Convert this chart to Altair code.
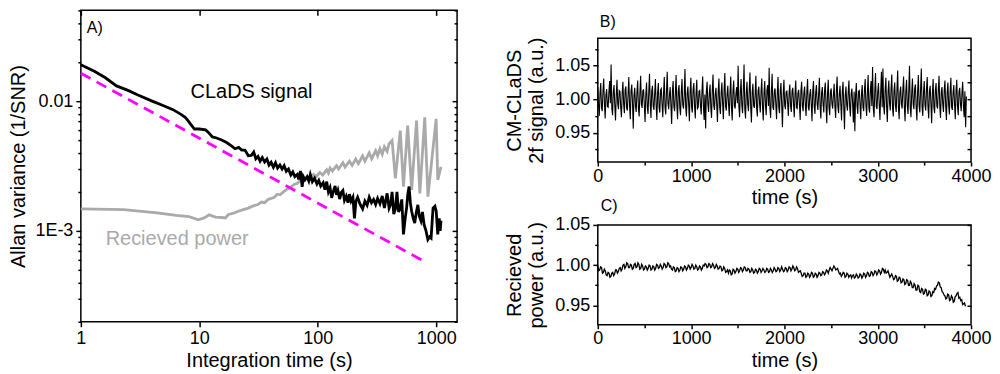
import altair as alt
import numpy as np
import pandas as pd

FONT = "Liberation Sans"

# ---------------- Panel A: Allan variance ----------------
clads_tau = [1, 1.3, 1.6, 2.0, 2.5, 3.0, 4.0, 5.0, 6.0, 7.0,
             7.6, 8.0, 8.5, 9.1, 10.0, 11.3, 12.0, 12.9, 14.0, 15.6,
             17.0, 18.8, 20.0, 21.5, 22.8, 24.3, 25.9, 27.5, 28.8, 30.0,
             31.3, 32.6, 34.0, 35.6, 37.2, 38.8, 40.4, 42.2, 44.0, 45.8,
             47.9, 50.0, 52.0, 54.2, 56.6, 59.2, 61.5, 64.0, 67.1, 69.0,
             71.4, 73.8, 75.5, 78.0, 81.3, 84.0, 86.5, 90.0, 94.0, 98.4,
             102, 106, 111, 115, 119, 123, 127, 131, 135, 140,
             144, 148, 153, 158, 163, 168, 174, 180, 185, 191,
             198, 204, 210, 217, 228, 239, 250, 261, 272, 284,
             296, 308, 320, 335, 350, 365, 385, 400, 412, 424,
             438, 452, 466, 481, 497, 512, 529, 547, 562, 575,
             590, 605, 620, 640, 658, 680, 700, 720, 743, 765,
             790, 820, 850, 880, 905, 940, 975, 1000, 1030, 1060,
             1080, 1097]
clads_var = [0.0191, 0.0170, 0.0152, 0.0131, 0.0121, 0.0112, 0.0100, 0.0092, 0.0086, 0.0079,
             0.0075, 0.0071, 0.0066, 0.0061, 0.0061, 0.0060, 0.0057, 0.0053, 0.0052, 0.0050,
             0.0048, 0.0045, 0.0043, 0.0044, 0.0042, 0.0042, 0.0038, 0.00382, 0.00405, 0.00360,
             0.00375, 0.00345, 0.00368, 0.00340, 0.00358, 0.00322, 0.00338, 0.00310, 0.00335, 0.00305,
             0.00322, 0.00300, 0.00318, 0.00288, 0.00300, 0.00270, 0.00285, 0.00262, 0.00272, 0.00250,
             0.00290, 0.00219, 0.00262, 0.00248, 0.00262, 0.00243, 0.00272, 0.00240, 0.00255, 0.00230,
             0.00245, 0.00222, 0.00235, 0.00208, 0.00240, 0.00200, 0.00215, 0.00180, 0.00200, 0.00222,
             0.00190, 0.00205, 0.00176, 0.00198, 0.00205, 0.00172, 0.00185, 0.00165, 0.00192, 0.00170,
             0.00182, 0.00125, 0.00170, 0.00182, 0.00160, 0.00148, 0.00170, 0.00158, 0.00182, 0.00165,
             0.00175, 0.00160, 0.00178, 0.00162, 0.00186, 0.00150, 0.00195, 0.00150, 0.00160, 0.00200,
             0.00135, 0.00148, 0.00200, 0.00140, 0.00150, 0.00175, 0.00094, 0.00125, 0.00150, 0.00190,
             0.00220, 0.00165, 0.00142, 0.00125, 0.00115, 0.00140, 0.00159, 0.00130, 0.00120, 0.00140,
             0.00112, 0.00100, 0.00086, 0.00090, 0.00088, 0.00150, 0.00155, 0.00142, 0.00094, 0.00125,
             0.00100, 0.00120]

power_tau = [1, 2.3, 4.4, 6.4, 8.2, 9.8, 11, 12.1, 13.7, 15.5,
             16.6, 17.6, 19.5, 21.3, 23.5, 25.9, 28.5, 31.3, 33.5, 35.6,
             38, 40.4, 43, 45.5, 48, 52, 55, 59.2, 63, 67.1,
             71, 75, 81.3, 86, 92, 97, 104, 110, 119, 123,
             127, 133, 144, 150, 163, 170, 185, 195, 209, 220,
             239, 250, 272, 285, 308, 320, 335, 350, 365, 385,
             400, 424, 452, 497, 529, 574, 620, 682, 727, 800,
             851, 998, 1031, 1097]
power_var = [0.00148, 0.00146, 0.00138, 0.00132, 0.00129, 0.00122, 0.00126, 0.00133, 0.00128, 0.00127,
             0.00126, 0.00134, 0.00137, 0.00142, 0.00146, 0.00150, 0.00156, 0.00160, 0.00167, 0.00165,
             0.00175, 0.00178, 0.00182, 0.00192, 0.00190, 0.00202, 0.00210, 0.00218, 0.00228, 0.00232,
             0.00246, 0.00240, 0.00256, 0.00250, 0.00272, 0.00262, 0.00282, 0.00270, 0.00296, 0.00280,
             0.00305, 0.00290, 0.00318, 0.00300, 0.00335, 0.00310, 0.00345, 0.00320, 0.00358, 0.00330,
             0.00378, 0.00345, 0.00400, 0.00360, 0.00415, 0.00380, 0.00430, 0.00390, 0.00445, 0.00410,
             0.00470, 0.00498, 0.00254, 0.00593, 0.00219, 0.00649, 0.00207, 0.00708, 0.00195, 0.00750,
             0.00184, 0.00730, 0.00247, 0.00312]

fit_tau = [1, 800]
fit_var = [0.0164, 0.00058]

label_text = ["CLaDS signal", "Recieved power"]
label_tau = [27.6, 6.5]
label_var = [0.0117, 0.00087]
label_color = ["black", "#AAAAAA"]

A_major_y = [0.001, 0.01]
A_minor_y = [0.0002, 0.0003, 0.0004, 0.0005, 0.0006, 0.0007, 0.0008, 0.0009,
             0.002, 0.003, 0.004, 0.005, 0.006, 0.007, 0.008, 0.009,
             0.02, 0.03, 0.04, 0.05]
A_major_x = [1, 10, 100, 1000]

# ---------------- Panel B: CM-CLaDS 2f signal ----------------
# two interleaved sample streams (even / odd samples)
b_values_even = [
    1.018, 0.975, 1.024, 0.982, 1.031, 0.971, 1.015, 0.988, 1.027, 1.052,
    0.976, 1.021, 0.968, 1.029, 0.985, 1.012, 0.973, 1.026, 0.979, 1.019,
    0.983, 1.033, 0.970, 1.022, 0.956, 1.017, 0.981, 1.028, 0.974, 1.035,
    0.987, 1.014, 0.966, 1.025, 0.978, 1.038, 0.972, 1.020, 0.984, 1.030,
    0.969, 1.024, 0.980, 1.016, 0.973, 1.033, 0.977, 1.041, 0.985, 1.018,
    0.963, 1.027, 0.982, 1.036, 0.970, 1.021, 0.976, 1.030, 0.986, 1.045,
    0.974, 1.019, 0.967, 1.032, 0.980, 1.024, 0.971, 1.029, 0.988, 1.013,
    0.977, 1.034, 0.969, 0.956, 1.026, 0.981, 1.022, 0.972, 1.037, 0.984,
    1.017, 0.966, 1.031, 0.978, 1.025, 0.970, 1.039, 0.983, 1.020, 0.975,
    1.034, 0.968, 1.028, 0.986, 1.018, 1.050, 0.973, 1.030, 0.979, 1.052,
    0.971, 1.026, 0.982, 1.040, 0.965, 1.023, 0.987, 1.035, 0.974, 1.019,
    0.980, 1.031, 0.968, 1.027, 0.976, 1.021, 1.047, 0.972, 1.038, 0.984,
    1.016, 0.970, 1.033, 0.979, 1.024, 0.958, 1.029, 0.985, 1.012, 0.975,
    1.022, 0.981, 1.017, 0.973, 1.028, 0.986, 1.014, 0.969, 1.026, 0.982,
    1.019, 0.975, 1.030, 0.983, 1.015, 0.967, 1.027, 0.978, 1.021, 0.984,
    1.032, 0.971, 1.018, 0.980, 1.025, 0.964, 1.029, 0.976, 1.016, 0.986,
    1.023, 0.972, 1.034, 0.979, 1.020, 0.968, 1.026, 0.955, 1.019, 0.983,
    1.028, 0.974, 1.016, 0.965, 0.952, 1.024, 0.978, 1.013, 0.970, 1.021,
    0.982, 1.030, 0.975, 1.036, 0.980, 1.027, 1.048, 0.973, 1.039, 0.985,
    1.024, 0.969, 1.041, 1.046, 0.977, 1.032, 0.966, 1.028, 0.983, 1.037,
    0.974, 1.025, 0.981, 1.043, 0.970, 1.019, 0.986, 1.034, 0.967, 1.029,
    0.978, 1.050, 0.973, 1.031, 0.985, 1.022, 0.968, 1.036, 0.980, 1.046,
    0.975, 1.027, 0.983, 1.033, 0.971, 1.020, 0.964, 1.030, 0.979, 1.024,
    0.986, 1.035, 0.972, 1.018, 0.981, 1.028, 0.969, 1.025, 0.977, 1.032,
    0.984, 1.021, 0.970, 1.029, 0.976, 1.017, 0.982, 1.026, 0.973, 0.958,
]
b_values_odd = [
    0.991, 1.009, 0.987, 1.012, 0.993, 1.006, 0.989, 1.010, 0.994, 0.986,
    1.011, 0.990, 1.007, 0.993, 1.013, 0.988, 1.009, 0.992, 1.014, 0.987,
    1.008, 0.989, 1.012, 0.994, 1.006, 0.990, 1.011, 0.986, 1.009, 0.992,
    1.013, 0.991, 1.007, 0.988, 1.010, 0.993, 1.012, 0.989, 1.008, 0.990,
    1.010, 0.987, 1.014, 0.992, 1.009, 0.988, 1.011, 0.993, 1.007, 0.990,
    1.012, 0.989, 1.008, 0.991, 1.013, 0.987, 1.010, 0.992, 1.006, 0.988,
    1.009, 0.993, 1.011, 0.988, 1.014, 0.990, 1.008, 0.986, 1.012, 0.991,
    1.010, 0.989, 1.007, 1.012, 0.992, 1.009, 0.987, 1.013, 0.990, 1.008,
    0.991, 1.011, 0.988, 1.009, 0.993, 1.014, 0.989, 1.007, 0.992, 1.010,
    0.987, 1.012, 0.990, 1.008, 0.994, 0.989, 1.011, 0.991, 1.013, 0.986,
    1.009, 0.992, 1.013, 0.988, 1.010, 0.990, 1.007, 0.987, 1.012, 0.993,
    1.011, 0.989, 1.008, 0.991, 1.014, 0.990, 0.986, 1.010, 0.988, 1.012,
    0.992, 1.009, 0.988, 1.013, 0.990, 1.007, 0.991, 1.011, 0.994, 1.010,
    0.989, 1.012, 0.993, 1.008, 0.987, 1.010, 0.992, 1.013, 0.990, 1.009,
    0.991, 1.011, 0.988, 1.007, 0.993, 1.012, 0.989, 1.010, 0.992, 1.008,
    0.988, 1.010, 0.992, 1.013, 0.990, 1.009, 0.987, 1.011, 0.993, 1.007,
    0.990, 1.012, 0.989, 1.008, 0.992, 1.011, 0.988, 1.006, 0.991, 1.010,
    0.989, 1.008, 0.993, 1.011, 1.006, 0.990, 1.012, 0.992, 1.009, 0.988,
    1.013, 0.991, 1.010, 0.987, 1.014, 0.990, 0.986, 1.012, 0.989, 1.011,
    0.992, 1.010, 0.988, 0.990, 1.013, 0.989, 1.011, 0.993, 1.015, 0.987,
    1.012, 0.990, 1.014, 0.988, 1.010, 0.993, 1.015, 0.989, 1.011, 0.991,
    1.013, 0.987, 1.010, 0.992, 1.016, 0.989, 1.012, 0.990, 1.014, 0.988,
    1.011, 0.991, 1.015, 0.989, 1.012, 0.993, 1.009, 0.988, 1.013, 0.990,
    1.014, 0.989, 1.011, 0.992, 1.013, 0.990, 1.010, 0.991, 1.012, 0.988,
    1.010, 0.992, 1.013, 0.989, 1.011, 0.993, 1.009, 0.990, 1.012, 1.004,
]
b_values = [v for pair in zip(b_values_even, b_values_odd) for v in pair]
b_time = np.linspace(0, 3950, len(b_values))

# ---------------- Panel C: received power ----------------
c_values_even = [
    0.999, 0.994, 0.997, 0.991, 0.993, 0.987, 0.990, 0.986, 0.991, 0.989,
    0.994, 0.992, 0.997, 0.995, 1.001, 0.998, 1.002, 0.997, 1.000, 0.996,
    1.002, 0.998, 1.001, 0.996, 0.999, 0.995, 0.998, 0.996, 0.999, 0.995,
    0.998, 0.996, 1.000, 0.997, 0.999, 0.997, 1.001, 0.998, 1.002, 0.999,
    0.994, 0.997, 0.993, 0.996, 0.994, 0.997, 0.995, 0.998, 0.996, 0.999,
    0.997, 0.999, 0.996, 0.998, 0.995, 0.998, 0.996, 0.999, 1.001, 0.998,
    1.001, 0.998, 1.000, 0.997, 0.999, 0.996, 0.998, 0.994, 0.996, 0.992,
    0.990, 0.993, 0.989, 0.994, 0.992, 0.995, 0.993, 0.996, 0.994, 0.997,
    0.993, 0.995, 0.992, 0.994, 0.991, 0.994, 0.992, 0.995, 0.993, 0.994,
    0.992, 0.995, 0.992, 0.994, 0.993, 0.995, 0.993, 0.996, 0.994, 0.995,
    0.993, 0.996, 0.994, 0.997, 0.995, 0.997, 0.994, 0.996, 0.992, 0.990,
    0.987, 0.990, 0.986, 0.989, 0.987, 0.990, 0.986, 0.989, 0.987, 0.990,
    0.988, 0.991, 0.990, 0.993, 0.994, 0.995, 0.996, 0.997, 0.995, 0.992,
    0.990, 0.988, 0.990, 0.986, 0.989, 0.987, 0.984, 0.988, 0.985, 0.987,
    0.985, 0.988, 0.986, 0.989, 0.987, 0.990, 0.987, 0.991, 0.989, 0.992,
    0.990, 0.993, 0.991, 0.995, 0.994, 0.991, 0.989, 0.987, 0.986, 0.983,
    0.986, 0.981, 0.984, 0.979, 0.982, 0.977, 0.981, 0.975, 0.978, 0.972,
    0.975, 0.969, 0.974, 0.966, 0.970, 0.965, 0.969, 0.963, 0.967, 0.962,
    0.966, 0.970, 0.975, 0.978, 0.972, 0.966, 0.962, 0.959, 0.963, 0.957,
    0.960, 0.955, 0.962, 0.966, 0.960, 0.957, 0.952, 0.949,
]
c_values_odd = [
    0.993, 0.998, 0.990, 0.995, 0.988, 0.991, 0.985, 0.990, 0.987, 0.994,
    0.990, 0.996, 0.993, 1.000, 0.996, 1.003, 0.997, 1.001, 0.995, 1.001,
    0.997, 1.003, 0.995, 1.001, 0.994, 0.999, 0.994, 1.000, 0.994, 0.999,
    0.994, 1.001, 0.996, 1.001, 0.995, 1.002, 0.997, 1.003, 0.998, 0.995,
    0.998, 0.992, 0.997, 0.992, 0.998, 0.993, 0.999, 0.994, 1.000, 0.995,
    1.001, 0.995, 1.000, 0.994, 0.999, 0.994, 1.000, 1.002, 0.997, 1.002,
    0.997, 1.002, 0.996, 1.001, 0.995, 0.999, 0.993, 0.998, 0.991, 0.994,
    0.994, 0.988, 0.995, 0.990, 0.996, 0.991, 0.997, 0.992, 0.998, 0.993,
    0.996, 0.991, 0.996, 0.990, 0.995, 0.990, 0.996, 0.991, 0.996, 0.991,
    0.996, 0.991, 0.996, 0.991, 0.997, 0.992, 0.997, 0.992, 0.998, 0.992,
    0.997, 0.992, 0.998, 0.993, 0.999, 0.993, 0.998, 0.991, 0.993, 0.986,
    0.990, 0.985, 0.990, 0.985, 0.991, 0.985, 0.990, 0.985, 0.991, 0.987,
    0.992, 0.988, 0.994, 0.990, 0.997, 0.993, 0.999, 0.994, 0.996, 0.989,
    0.986, 0.991, 0.985, 0.990, 0.985, 0.988, 0.987, 0.984, 0.989, 0.984,
    0.989, 0.984, 0.990, 0.985, 0.991, 0.986, 0.992, 0.987, 0.993, 0.988,
    0.994, 0.989, 0.996, 0.991, 0.990, 0.993, 0.985, 0.989, 0.982, 0.987,
    0.980, 0.985, 0.978, 0.983, 0.976, 0.982, 0.975, 0.980, 0.972, 0.977,
    0.969, 0.975, 0.967, 0.971, 0.964, 0.970, 0.962, 0.968, 0.961, 0.967,
    0.971, 0.974, 0.979, 0.973, 0.967, 0.963, 0.958, 0.964, 0.956, 0.962,
    0.954, 0.961, 0.965, 0.959, 0.956, 0.951, 0.953,
]
c_values = []
for i, v in enumerate(c_values_even):
    c_values.append(v)
    if i < len(c_values_odd):
        c_values.append(c_values_odd[i])
c_time = np.linspace(0, 3940, len(c_values))

BC_major_x = [0, 1000, 2000, 3000, 4000]
BC_minor_x = [500, 1500, 2500, 3500]
B_major_y = [0.95, 1.00, 1.05]
B_minor_y = [0.925, 0.975, 1.025, 1.075]
B_all_y = [0.925, 0.95, 0.975, 1.00, 1.025, 1.05, 1.075]
C_major_y = [0.95, 1.00, 1.05]
C_minor_y = [0.975, 1.025]
C_all_y = [0.95, 0.975, 1.00, 1.025, 1.05]

# ---------------- sizes ----------------
WA, HA = 377, 312
WB, HB = 374, 124
HC = 100
H_TAG = 24


def ax(**kw):
    base = dict(grid=False, domain=False, tickColor="black", tickWidth=1.5,
                labelColor="black", titleColor="black", labelFont=FONT,
                titleFont=FONT, labelFontSize=18, titleFontSize=20,
                titleFontWeight="normal", labelFlush=False, labelOverlap=False)
    base.update(kw)
    return alt.Axis(**base)


def ticks_only(values, size, **kw):
    return ax(values=values, labels=False, title=None, tickSize=size, **kw)


# ---------- Panel A ----------
dfC = pd.DataFrame({"tau": clads_tau, "v": clads_var})
dfP = pd.DataFrame({"tau": power_tau, "v": power_var})
dfF = pd.DataFrame({"tau": fit_tau, "v": fit_var})
dfL = pd.DataFrame({"tau": label_tau, "v": label_var, "label": label_text, "color": label_color})

xsA = alt.Scale(type="log", domain=[1, 1500], nice=False)
ysA = alt.Scale(type="log", domain=[0.0002, 0.05], nice=False)

axA_bottom = ax(values=A_major_x, format="d", title="Integration time (s)",
                tickSize=5, labelPadding=3, titlePadding=3)
axA_left = ax(values=A_major_y, labelExpr="datum.value < 0.005 ? '1E-3' : '0.01'",
              title="Allan variance (1/SNR)", tickSize=5, labelPadding=3, titlePadding=6)
axA_top = ticks_only(A_major_x, 5, orient="bottom", offset=-HA)
axA_leftminor = ticks_only(A_minor_y, 3, orient="left")
axA_right = ticks_only(A_major_y, 5, orient="left", offset=-WA)
axA_rightminor = ticks_only(A_minor_y, 3, orient="left", offset=-WA)

grayA = alt.Chart(dfP).mark_line(color="#AAAAAA", strokeWidth=2.8).encode(
    x=alt.X("tau:Q", scale=xsA, axis=axA_bottom),
    y=alt.Y("v:Q", scale=ysA, axis=axA_left))
blackA = alt.Chart(dfC).mark_line(color="black", strokeWidth=2.8).encode(
    x=alt.X("tau:Q", scale=xsA, axis=axA_top),
    y=alt.Y("v:Q", scale=ysA, axis=axA_leftminor))
fitA = alt.Chart(dfF).mark_line(color="#FF00FF", strokeWidth=2.8, strokeDash=[11, 7]).encode(
    x=alt.X("tau:Q", scale=xsA, axis=None),
    y=alt.Y("v:Q", scale=ysA, axis=axA_right))
ghostA = alt.Chart(dfF).mark_point(opacity=0).encode(
    x=alt.X("tau:Q", scale=xsA, axis=None),
    y=alt.Y("v:Q", scale=ysA, axis=axA_rightminor))
textA = alt.Chart(dfL).mark_text(font=FONT, fontSize=20, align="center", baseline="middle").encode(
    x=alt.X("tau:Q", scale=xsA, axis=None),
    y=alt.Y("v:Q", scale=ysA, axis=None),
    text="label:N",
    color=alt.Color("color:N", scale=None))
tagA = alt.Chart(pd.DataFrame({"t": ["A)"]})).mark_text(
    font=FONT, fontSize=16, align="left", baseline="middle", color="black").encode(
    x=alt.value(6), y=alt.value(18), text="t:N")

panelA = alt.layer(grayA, blackA, fitA, ghostA, textA, tagA).resolve_axis(
    x="independent", y="independent").properties(width=WA, height=HA)

# ---------- "B)" label strip ----------
tagB = alt.Chart(pd.DataFrame({"t": ["B)"]})).mark_text(
    font=FONT, fontSize=16, align="left", baseline="middle", color="black").encode(
    x=alt.value(2), y=alt.value(12), text="t:N").properties(
    width=WB, height=H_TAG, view=alt.ViewBackground(stroke="transparent"))

# ---------- Panel B ----------
dfB = pd.DataFrame({"t": b_time, "v": b_values})
xsT = alt.Scale(domain=[0, 4000], nice=False, zero=False)
ysB = alt.Scale(domain=[0.906, 1.091], nice=False, zero=False)

lineB = alt.Chart(dfB).mark_line(color="black", strokeWidth=1.1).encode(
    x=alt.X("t:Q", scale=xsT, axis=ax(values=BC_major_x, format="d", title="time (s)",
                                      tickSize=4, labelPadding=1, titlePadding=3)),
    y=alt.Y("v:Q", scale=ysB, axis=ax(values=B_major_y, format=".2f",
                                      title=["CM-CLaDS", "2f signal (a.u.)"],
                                      titleLineHeight=22, tickSize=5, labelPadding=3,
                                      titlePadding=8)))
ghostB1 = alt.Chart(dfB).mark_point(opacity=0).encode(
    x=alt.X("t:Q", scale=xsT, axis=ticks_only(BC_minor_x, 3, orient="bottom")),
    y=alt.Y("v:Q", scale=ysB, axis=ticks_only(B_minor_y, 3, orient="left")))
ghostB2 = alt.Chart(dfB).mark_point(opacity=0).encode(
    x=alt.X("t:Q", scale=xsT, axis=None),
    y=alt.Y("v:Q", scale=ysB, axis=ticks_only(B_all_y, 4, orient="left", offset=-WB)))
tagC = alt.Chart(pd.DataFrame({"t": ["C)"]})).mark_text(
    font=FONT, fontSize=16, align="left", baseline="middle", color="black").encode(
    x=alt.value(3), y=alt.value(HB + 44), text="t:N")

panelB = alt.layer(lineB, ghostB1, ghostB2, tagC).resolve_axis(
    x="independent", y="independent").properties(width=WB, height=HB)

# ---------- Panel C ----------
dfCc = pd.DataFrame({"t": c_time, "v": c_values})
ysC = alt.Scale(domain=[0.926, 1.05], nice=False, zero=False)

lineC = alt.Chart(dfCc).mark_line(color="black", strokeWidth=1.3).encode(
    x=alt.X("t:Q", scale=xsT, axis=ax(values=BC_major_x, format="d", title="time (s)",
                                      tickSize=4, labelPadding=1, titlePadding=3)),
    y=alt.Y("v:Q", scale=ysC, axis=ax(values=C_major_y, format=".2f",
                                      title=["Recieved", "power (a.u.)"],
                                      titleLineHeight=22, tickSize=5, labelPadding=3,
                                      titlePadding=8)))
ghostC1 = alt.Chart(dfCc).mark_point(opacity=0).encode(
    x=alt.X("t:Q", scale=xsT, axis=ticks_only(BC_minor_x, 3, orient="bottom")),
    y=alt.Y("v:Q", scale=ysC, axis=ticks_only(C_minor_y, 3, orient="left")))
ghostC2 = alt.Chart(dfCc).mark_point(opacity=0).encode(
    x=alt.X("t:Q", scale=xsT, axis=None),
    y=alt.Y("v:Q", scale=ysC, axis=ticks_only(C_all_y, 4, orient="left", offset=-WB)))

panelC = alt.layer(lineC, ghostC1, ghostC2).resolve_axis(
    x="independent", y="independent").properties(width=WB, height=HC)

chart = alt.hconcat(
    panelA,
    alt.vconcat(tagB, panelB, panelC, spacing=0),
    spacing=45,
).properties(padding=0).configure(font=FONT).configure_view(
    stroke="black", strokeWidth=1.5)

chart.save("out.html", embed_options={"renderer": "svg", "actions": False})
